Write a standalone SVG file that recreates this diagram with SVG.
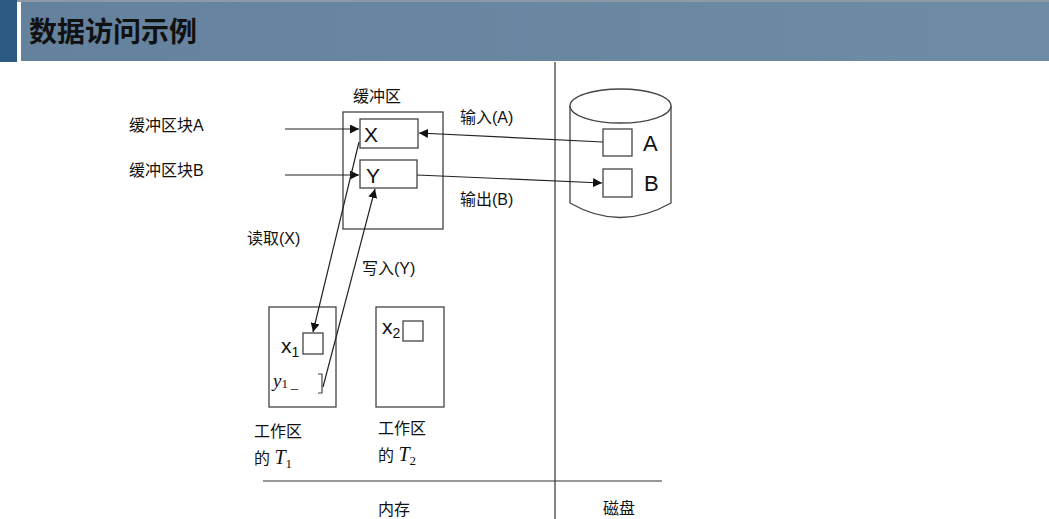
<svg xmlns="http://www.w3.org/2000/svg" width="1049" height="519" viewBox="0 0 1049 519">
<style>
.t{font-family:"Liberation Sans","Noto Sans CJK SC",sans-serif;font-size:16px;fill:#111}
.l{fill:none;stroke:#222;stroke-width:1.2}
.b{fill:#fff;stroke:#444;stroke-width:1.3}
.m{font-family:"Liberation Serif","DejaVu Serif",serif;font-style:italic;fill:#111}
</style>
<defs>
<marker id="ah" viewBox="0 0 10 10" refX="10" refY="5" markerWidth="9" markerHeight="9" markerUnits="userSpaceOnUse" orient="auto"><path d="M0,0 L10,5 L0,10 z" fill="#111"/></marker>
<linearGradient id="hg" x1="0" x2="1" y1="0" y2="0"><stop offset="0" stop-color="#64829e"/><stop offset="1" stop-color="#6f8ca6"/></linearGradient>
</defs>
<rect width="1049" height="519" fill="#fff"/>
<g id="header">
<rect x="0" y="0" width="1049" height="2" fill="#8d9aa6"/>
<rect x="0" y="0" width="17" height="62" fill="#2d5a80"/>
<rect x="21" y="2" width="1028" height="59" fill="url(#hg)"/>
<text x="29" y="42" font-family="'Noto Sans CJK SC',sans-serif" font-weight="bold" font-size="28" fill="#111">数据访问示例</text>
</g>
<g id="dividers" stroke="#333" stroke-width="1.2">
<line x1="555" y1="62" x2="555" y2="519"/>
<line x1="263" y1="481" x2="662" y2="481"/>
</g>
<g id="buffer">
<rect class="b" x="343" y="112" width="100" height="117"/>
<text class="t" x="353" y="102">缓冲区</text>
</g>
<g id="blockX">
<rect class="b" x="360" y="119" width="58" height="29"/>
<text x="364" y="142" font-family="Liberation Sans,sans-serif" font-size="21" fill="#111">X</text>
</g>
<g id="blockY">
<rect class="b" x="360" y="160" width="57" height="28"/>
<text x="366" y="183" font-family="Liberation Sans,sans-serif" font-size="21" fill="#111">Y</text>
</g>
<g id="labelsA">
<text class="t" x="129" y="131">缓冲区块A</text>
<text class="t" x="129" y="176">缓冲区块B</text>
</g>
<g id="disk">
<path d="M570,106 L570,203 Q620,232 671,203 L671,106" fill="#fff" stroke="#444" stroke-width="1.3"/>
<ellipse cx="620.5" cy="106" rx="50.5" ry="17" fill="#fff" stroke="#444" stroke-width="1.3"/>
<rect class="b" x="603" y="129" width="29" height="27"/>
<rect class="b" x="603" y="169" width="29" height="28"/>
<text x="643" y="151" font-family="Liberation Sans,sans-serif" font-size="22" fill="#111">A</text>
<text x="644" y="191" font-family="Liberation Sans,sans-serif" font-size="22" fill="#111">B</text>
</g>
<g id="workT1">
<rect class="b" x="269" y="307" width="67" height="100"/>
<rect class="b" x="303" y="333" width="20" height="21"/>
<text x="281" y="353" font-family="Liberation Sans,sans-serif" font-size="21" fill="#111">x<tspan font-size="14" dy="4">1</tspan></text>
<text class="m" x="273" y="387" font-size="19">y<tspan font-style="normal" font-size="13" dy="1">1</tspan><tspan font-style="normal" dx="3" font-size="14">_</tspan></text>
<path d="M318,374 L322,374 L322,393 L318,393" fill="none" stroke="#444" stroke-width="1.2"/>
<text class="t" x="254" y="437">工作区</text>
<text class="t" x="254" y="464">的 <tspan class="m" font-size="20">T</tspan><tspan font-family="Liberation Serif,serif" font-size="13" dy="4">1</tspan></text>
</g>
<g id="workT2">
<rect class="b" x="376" y="307" width="68" height="100"/>
<rect class="b" x="403" y="321" width="20" height="20"/>
<text x="382" y="334" font-family="Liberation Sans,sans-serif" font-size="21" fill="#111">x<tspan font-size="14" dy="4">2</tspan></text>
<text class="t" x="378" y="434">工作区</text>
<text class="t" x="378" y="461">的 <tspan class="m" font-size="20">T</tspan><tspan font-family="Liberation Serif,serif" font-size="13" dy="4">2</tspan></text>
</g>
<g id="connectors">
<line class="l" x1="285" y1="129" x2="359" y2="129" marker-end="url(#ah)"/>
<line class="l" x1="285" y1="175" x2="359" y2="175" marker-end="url(#ah)"/>
<line class="l" x1="603" y1="142" x2="419" y2="133" marker-end="url(#ah)"/>
<line class="l" x1="417" y1="175" x2="602" y2="183" marker-end="url(#ah)"/>
<line class="l" x1="359" y1="142" x2="313" y2="332" marker-end="url(#ah)"/>
<line class="l" x1="323" y1="387" x2="375" y2="189" marker-end="url(#ah)"/>
</g>
<g id="edgeLabels">
<text class="t" x="460" y="123">输入(A)</text>
<text class="t" x="460" y="205">输出(B)</text>
<text class="t" x="247" y="244">读取(X)</text>
<text class="t" x="362" y="274">写入(Y)</text>
<text class="t" x="378" y="515">内存</text>
<text class="t" x="603" y="514">磁盘</text>
</g>
</svg>
